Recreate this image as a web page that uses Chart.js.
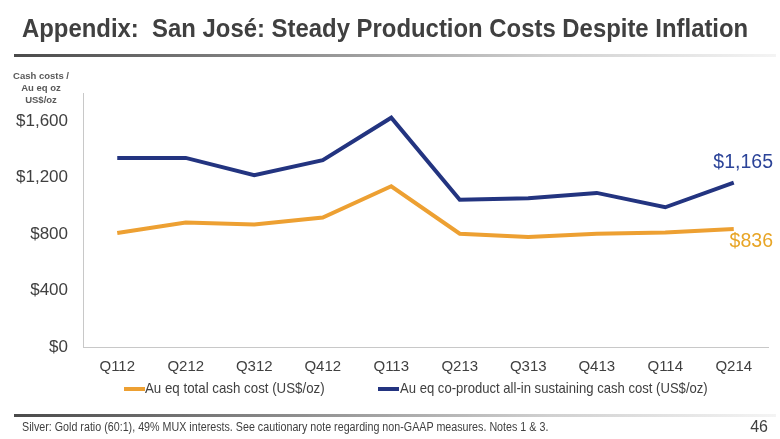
<!DOCTYPE html>
<html>
<head>
<meta charset="utf-8">
<script src="https://cdn.jsdelivr.net/npm/chart.js@4.4.1/dist/chart.umd.min.js"></script>
<style>
    body { margin: 0; background: #fff; }
    #page { position: relative; width: 780px; height: 439px; overflow: hidden; color: #404040;
            font-family: "Liberation Sans", Arial, sans-serif; }
    #page canvas { position: absolute; left: 0; top: 0; }
    .fit { transform-origin: 0 50%; white-space: nowrap; }
    .title { position: absolute; left: 22px; top: 13px; font-size: 26px; font-weight: bold; }
    .rule { position: absolute; left: 14px; width: 762px; height: 3px;
            background: linear-gradient(to right, #4a4a4a 0%, #8a8a8a 35%, #d0d0d0 70%, #f4f4f4 100%); }
    .ytitle { position: absolute; left: 5px; top: 70px; width: 72px; text-align: center;
              font-weight: bold; font-size: 9.5px; line-height: 12px; color: #595959; }
    .legend { position: absolute; top: 379px; font-size: 15px; }
    .sw { position: absolute; top: 387px; width: 21px; height: 4px; }
    .footer { position: absolute; left: 22px; top: 420px; font-size: 12px; }
    .pageno { position: absolute; right: 12px; top: 418px; font-size: 16px; }
</style>
</head>
<body>
<div id="page">
    <canvas id="myChart" width="780" height="439"></canvas>
    <div class="title fit" data-w="726">Appendix:&nbsp; San José: Steady Production Costs Despite Inflation</div>
    <div class="rule" style="top:54px"></div>
    <div class="ytitle">Cash costs /<br>Au eq oz<br>US$/oz</div>
    <div class="sw" style="left:124px;background:#eda032"></div>
    <div class="legend fit" data-w="180" style="left:145px">Au eq total cash cost (US$/oz)</div>
    <div class="sw" style="left:378px;background:#233480"></div>
    <div class="legend fit" data-w="308" style="left:400px">Au eq co-product all-in sustaining cash cost (US$/oz)</div>
    <div class="rule" style="top:414px"></div>
    <div class="footer fit" data-w="526">Silver: Gold ratio (60:1), 49% MUX interests. See cautionary note regarding non-GAAP measures. Notes 1 &amp; 3.</div>
    <div class="pageno">46</div>
</div>
<script>
var quarters = ['Q112', 'Q212', 'Q312', 'Q412', 'Q113', 'Q213', 'Q313', 'Q413', 'Q114', 'Q214'];
var totalCashCost = [808, 883, 869, 917, 1139, 803, 779, 803, 812, 836];
var allInSustainingCost = [1340, 1340, 1217, 1324, 1625, 1044, 1054, 1092, 990, 1165];
var yTicks = [0, 400, 800, 1200, 1600];

function money(v) {
    return '$' + v.toLocaleString('en-US');
}

// no narrow font installed, so squeeze the slide text to its width
document.querySelectorAll('.fit').forEach(function(el) {
    el.style.display = 'inline-block';
    var w = el.offsetWidth;
    el.style.transform = 'scaleX(' + (parseFloat(el.dataset.w) / w) + ')';
});

// last value written at the right end of each line
var endLabels = {
    id: 'endLabels',
    afterDatasetsDraw: function(chart) {
        var ctx = chart.ctx;
        chart.data.datasets.forEach(function(ds, i) {
            var meta = chart.getDatasetMeta(i);
            var pt = meta.data[meta.data.length - 1];
            var val = ds.data[ds.data.length - 1];
            ctx.save();
            ctx.font = '19.5px "Liberation Sans", Arial, sans-serif';
            ctx.fillStyle = ds.labelColor;
            ctx.textAlign = 'right';
            ctx.textBaseline = 'middle';
            ctx.fillText(money(val), 773, pt.y + ds.labelShift);
            ctx.restore();
        });
    }
};

const myChart = new Chart(document.getElementById('myChart'), {
    type: 'line',
    data: {
        labels: quarters,
        datasets: [
            {
                label: 'Au eq total cash cost (US$/oz)',
                data: totalCashCost,
                borderColor: '#eda032',
                labelColor: '#e8a526',
                labelShift: 13,
                borderWidth: 4,
                pointRadius: 0,
                tension: 0
            },
            {
                label: 'Au eq co-product all-in sustaining cash cost (US$/oz)',
                data: allInSustainingCost,
                borderColor: '#233480',
                labelColor: '#2b4398',
                labelShift: -20,
                borderWidth: 4,
                pointRadius: 0,
                tension: 0
            }
        ]
    },
    options: {
        responsive: false,
        animation: false,
        layout: { padding: { top: 93, right: 12, bottom: 62, left: 0 } },
        plugins: { legend: { display: false }, tooltip: { enabled: false } },
        scales: {
            x: {
                offset: true,
                grid: { display: false, drawTicks: false },
                border: { display: true, color: '#c8c8c8', width: 1 },
                ticks: {
                    padding: 11,
                    maxRotation: 0,
                    color: '#404040',
                    font: { family: '"Liberation Sans", Arial', size: 15 }
                },
                afterFit: function(scale) { scale.height = 30; }
            },
            y: {
                min: 0,
                max: 1800,
                grid: { display: false, drawTicks: false },
                border: { display: true, color: '#c8c8c8', width: 1 },
                ticks: {
                    stepSize: 400,
                    padding: 15,
                    color: '#404040',
                    font: { family: '"Liberation Sans", Arial', size: 17 },
                    callback: function(v) { return money(v); }
                },
                afterBuildTicks: function(scale) {
                    scale.ticks = yTicks.map(function(v) { return { value: v }; });
                },
                afterFit: function(scale) { scale.width = 83; }
            }
        }
    },
    plugins: [endLabels]
});
</script>
</body>
</html>
